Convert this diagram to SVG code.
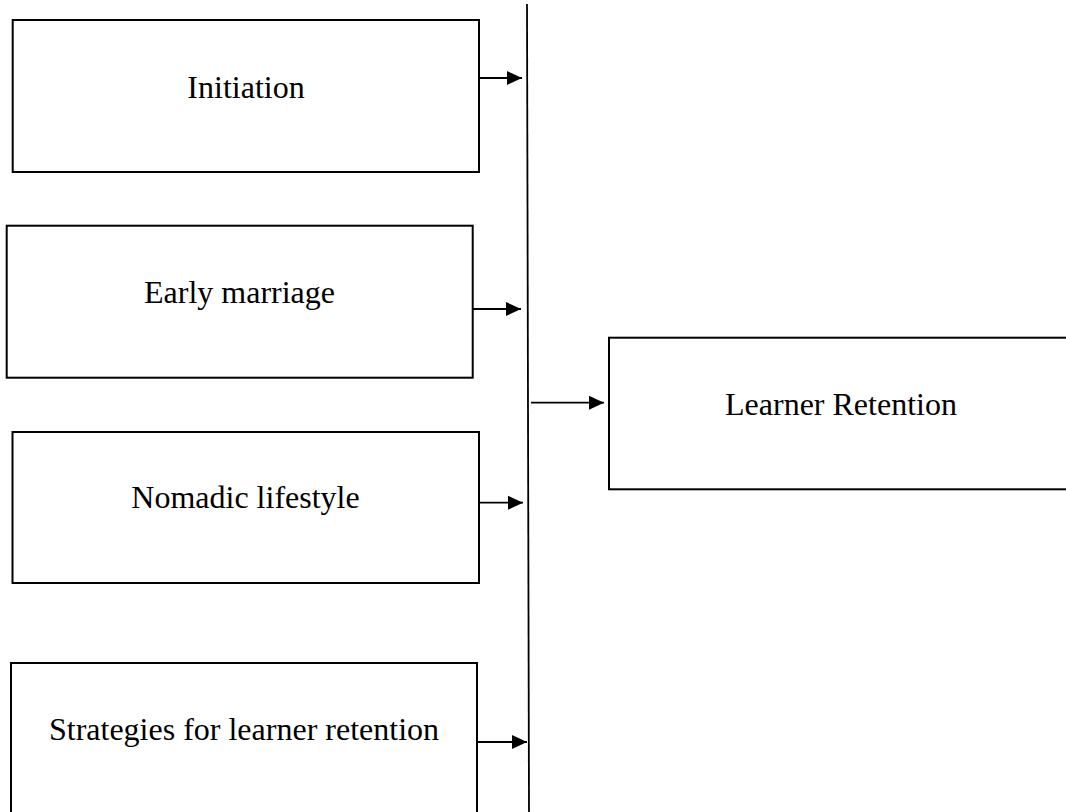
<svg xmlns="http://www.w3.org/2000/svg" width="1066" height="812" viewBox="0 0 1066 812">
<style>
.box{fill:#fff;stroke:#000;stroke-width:2}
.lbl{font-family:"Liberation Serif","Times New Roman",serif;font-size:32px;fill:#000;text-anchor:middle}
.conn{stroke:#000;stroke-width:1.8;fill:none}
</style>
<defs>
<marker id="ah" markerUnits="userSpaceOnUse" markerWidth="16" markerHeight="16" viewBox="0 0 16 16" refX="15" refY="8" orient="auto">
<polygon points="0,1 15,8 0,15" fill="#000"/>
</marker>
</defs>
<rect width="1066" height="812" fill="#fff"/>
<g id="n1"><rect class="box" x="12.7" y="20" width="466.3" height="152"/><text class="lbl" x="246" y="98">Initiation</text></g>
<g id="n2"><rect class="box" x="6.7" y="225.7" width="466" height="152"/><text class="lbl" x="239.5" y="302.7">Early marriage</text></g>
<g id="n3"><rect class="box" x="12.5" y="432" width="466.5" height="151"/><text class="lbl" x="245.5" y="508.3">Nomadic lifestyle</text></g>
<g id="n4"><rect class="box" x="11" y="663" width="466" height="160"/><text class="lbl" x="244" y="740">Strategies for learner retention</text></g>
<g id="n5"><rect class="box" x="609" y="337.7" width="470" height="151.6"/><text class="lbl" x="841" y="415">Learner Retention</text></g>
<g id="connectors">
<line class="conn" x1="527" y1="4" x2="529" y2="812"/>
<line class="conn" x1="479" y1="78" x2="522" y2="78" marker-end="url(#ah)"/>
<line class="conn" x1="472.7" y1="309" x2="521" y2="309" marker-end="url(#ah)"/>
<line class="conn" x1="479" y1="502.7" x2="523" y2="502.7" marker-end="url(#ah)"/>
<line class="conn" x1="477" y1="742" x2="527" y2="742" marker-end="url(#ah)"/>
<line class="conn" x1="531" y1="402.7" x2="604" y2="402.7" marker-end="url(#ah)"/>
</g>
</svg>
